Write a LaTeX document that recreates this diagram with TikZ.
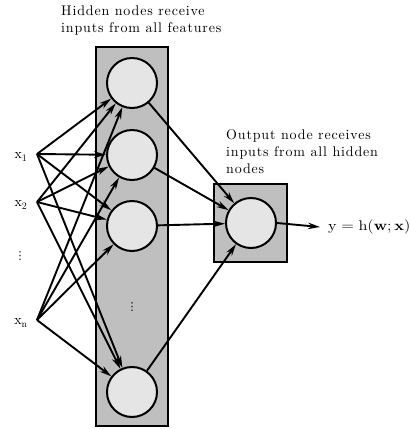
\documentclass[tikz,border=0pt]{standalone}
\usepackage{fontspec}
\setmainfont{lmroman10-regular.otf}[LetterSpace=6, BoldFont=lmroman10-bold.otf]
\newfontfamily\dejavu{DejaVu Sans}
\usetikzlibrary{arrows.meta}
\begin{document}
\begin{tikzpicture}[x=1pt,y=-1pt,
  font=\fontsize{14}{17}\selectfont,
  layerbox/.style={draw, line width=2.2pt, fill=black!25},
  unit/.style={circle, draw, line width=2pt, fill=black!10, minimum size=50pt, inner sep=0pt},
  conn/.style={line width=1.9pt, -{Stealth[length=12pt,width=6.5pt]}},
  note/.style={align=left, inner sep=0pt, anchor=north west},
  dots/.style={font=\dejavu\fontsize{11}{12}\selectfont, inner sep=0pt}]
\useasboundingbox (0,0) rectangle (410,429);
% boxes
\draw[layerbox] (96,47) rectangle (168,426);
\draw[layerbox] (214,184) rectangle (287,262);
% hidden units
\node[unit] (h1) at (132,83) {};
\node[unit] (h2) at (132,155) {};
\node[unit] (h3) at (132,226) {};
\node[unit] (h4) at (132,392) {};
\node[dots] (hd) at (132,307) {⋮};
% output unit
\node[unit] (o) at (251,223) {};
% inputs
\coordinate (i1) at (37,154);
\coordinate (i2) at (37,202);
\coordinate (in) at (37,320);
\node (l1) at (21,157) {$\mathrm{x}_1$};
\node (l2) at (21,205) {$\mathrm{x}_2$};
\node[dots] (ld) at (20,256) {⋮};
\node (ln) at (21,323) {$\mathrm{x}_\mathrm{n}$};
% edges
\foreach \i in {i1,i2,in}{
  \foreach \h in {h1,h2,h3,h4}{
    \draw[conn] (\i) -- (\h);
  }
}
\foreach \h in {h1,h2,h3,h4}{
  \draw[conn] (\h) -- (o);
}
\coordinate (yend) at (320,227);
\draw[conn] (o.east) -- (yend);
\node[anchor=west, inner sep=0pt] (y) at (328,227) {\scalebox{1.15}[1]{$\mathrm{y} = \mathrm{h}(\mathbf{w};\mathbf{x})$}};
% notes
\node[note] (t1) at (61,6) {Hidden nodes receive\\inputs from all features};
\node[note] (t2) at (226,129) {Output node receives\\inputs from all hidden\\nodes};
\end{tikzpicture}
\end{document}
